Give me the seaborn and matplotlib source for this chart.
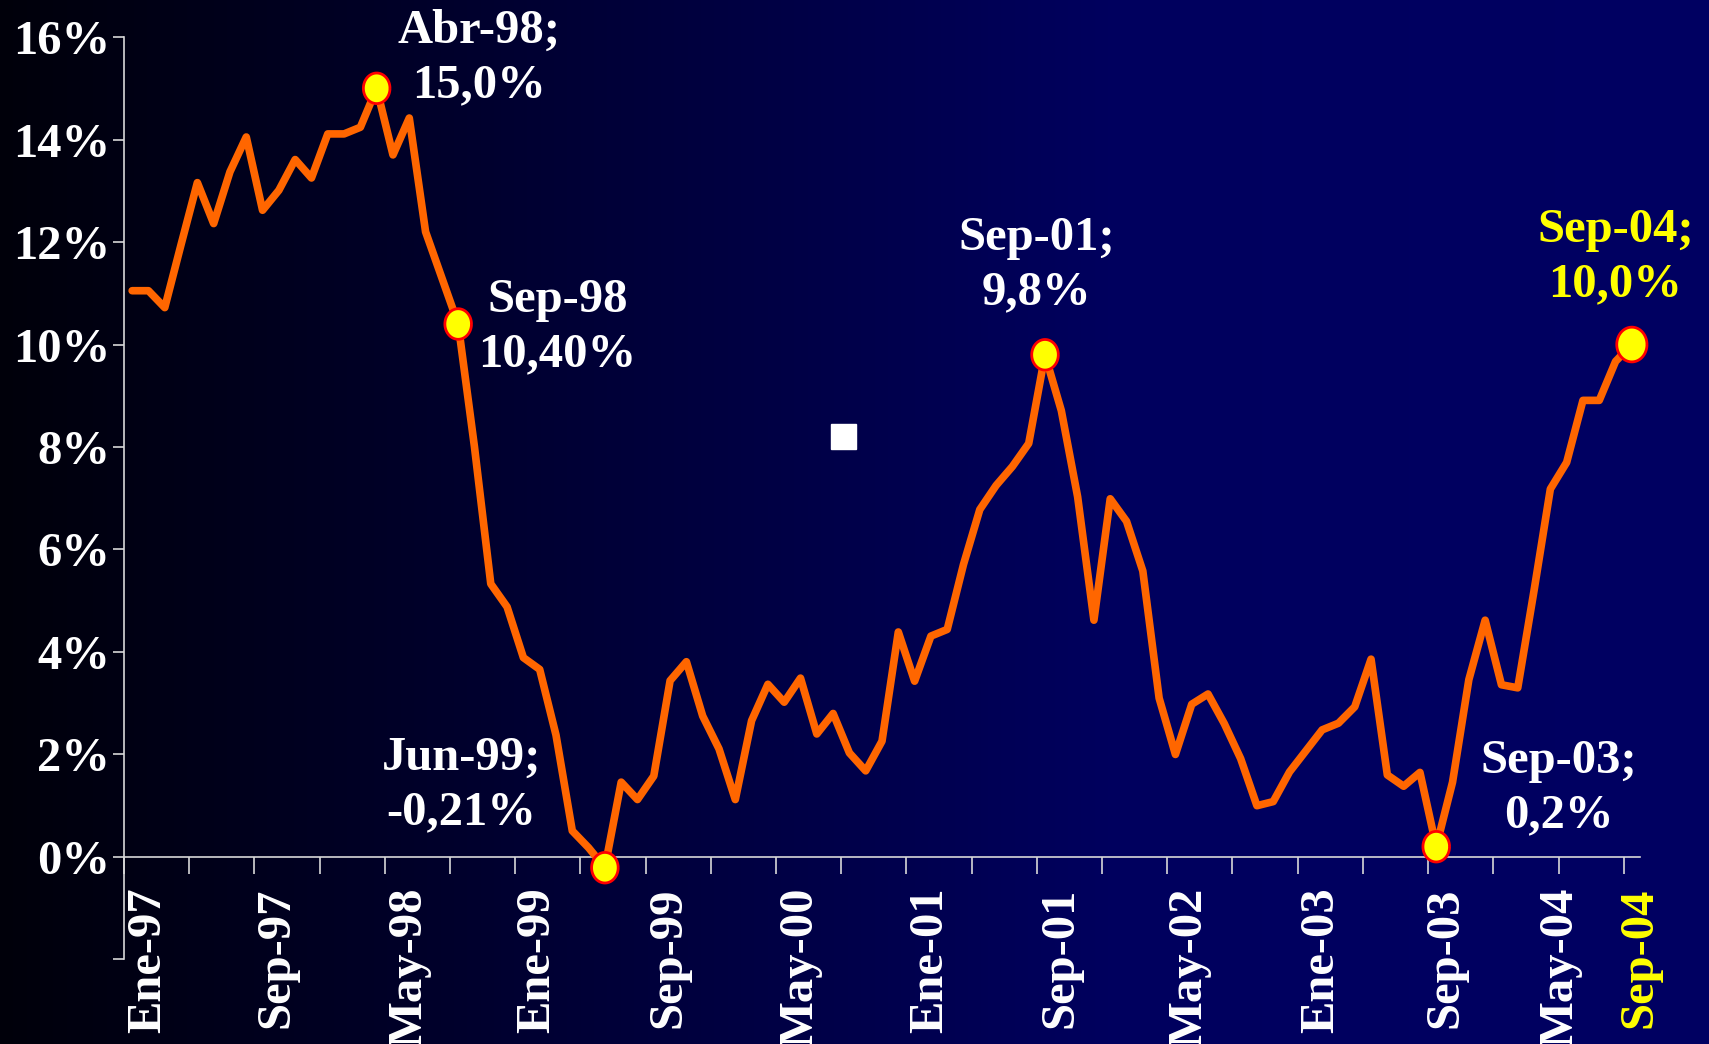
import numpy as np
import pandas as pd
import seaborn as sns
import matplotlib.pyplot as plt
from matplotlib.lines import Line2D
from matplotlib.colors import LinearSegmentedColormap

# monthly series Ene-97 .. Sep-04 (%)
meses = ['Ene', 'Feb', 'Mar', 'Abr', 'May', 'Jun', 'Jul', 'Ago', 'Sep', 'Oct', 'Nov', 'Dic']
fechas = [f'{m}-{a:02d}' for a in [97, 98, 99, 0, 1, 2, 3, 4] for m in meses][:93]

valores = [11.05, 11.05, 10.72, 11.95, 13.16, 12.36, 13.37, 14.05, 12.62, 13.01, 13.61, 13.25,
           14.11, 14.11, 14.24, 15.0, 13.70, 14.42, 12.2, 11.3, 10.4, 8.0, 5.33, 4.88,
           3.89, 3.66, 2.38, 0.51, 0.18, -0.21, 1.46, 1.12, 1.58, 3.44, 3.81, 2.75,
           2.11, 1.12, 2.66, 3.37, 3.02, 3.49, 2.40, 2.80, 2.03, 1.68, 2.26, 4.39,
           3.43, 4.31, 4.44, 5.71, 6.78, 7.25, 7.62, 8.07, 9.8, 8.71, 7.03, 4.62,
           6.99, 6.55, 5.58, 3.10, 2.00, 2.98, 3.18, 2.60, 1.92, 1.00, 1.08, 1.66,
           2.07, 2.48, 2.61, 2.93, 3.86, 1.60, 1.38, 1.65, 0.2, 1.46, 3.46, 4.62,
           3.36, 3.30, 5.2, 7.18, 7.70, 8.91, 8.91, 9.67, 10.0]

# highlighted points and their labels
destacados = ['Abr-98', 'Sep-98', 'Jun-99', 'Sep-01', 'Sep-03', 'Sep-04']
etiquetas = ['Abr-98;\n15,0%', 'Sep-98\n10,40%', 'Jun-99;\n-0,21%',
             'Sep-01;\n9,8%', 'Sep-03;\n0,2%', 'Sep-04;\n10,0%']
etiqueta_pos = [(21.3, 15.59), (26.1, 10.34), (20.2, 1.40),
                (55.5, 11.55), (87.5, 1.34), (91.0, 11.71)]

eje_x_labels = ['Ene-97', 'Sep-97', 'May-98', 'Ene-99', 'Sep-99', 'May-00', 'Ene-01',
                'Sep-01', 'May-02', 'Ene-03', 'Sep-03', 'May-04', 'Sep-04']
# where the rotated labels sit along the axis (in months)
eje_x_pos = [0.97, 8.87, 16.97, 24.87, 32.92, 40.97, 48.97, 56.92, 64.87, 72.92, 80.57, 87.57, 92.47]

df = pd.DataFrame({'fecha': fechas, 'valor': valores})
df['mes'] = np.arange(len(df))

sns.set_style('ticks')
plt.rcParams['font.family'] = ['Liberation Serif', 'DejaVu Serif']
plt.rcParams['font.weight'] = 'bold'

fig = plt.figure(figsize=(17.09, 10.44), dpi=100)

# background gradient black -> dark blue
bg = fig.add_axes([0, 0, 1, 1], zorder=0)
fondo = LinearSegmentedColormap.from_list(
    'fondo', [(0, '#00000A'), (0.65, '#00005E'), (1, '#000062')])
bg.imshow(np.linspace(0, 1, 512)[None, :], aspect='auto', cmap=fondo, extent=[0, 1, 0, 1])
bg.axis('off')

ax = fig.add_axes([0.07256, 0.0810, 0.88707, 0.8835], zorder=1)
ax.patch.set_alpha(0)

sns.lineplot(data=df, x='mes', y='valor', ax=ax, color='#FF6600', linewidth=5.5, zorder=3)

# slightly tall elliptical markers
t = np.linspace(0, 2 * np.pi, 80)
elipse = list(zip(0.87 * np.cos(t), np.sin(t)))
pts = df[df['fecha'].isin(destacados)]
sizes = [22 ** 2 if f != 'Sep-04' else 25 ** 2 for f in pts['fecha']]
ax.scatter(pts['mes'], pts['valor'], s=sizes, marker=elipse, facecolor='#FFFF00',
           edgecolor='#FF0000', linewidth=2, zorder=4, clip_on=False)

for txt, (x, y) in zip(etiquetas, etiqueta_pos):
    col = '#FFFF00' if txt.startswith('Sep-04') else 'white'
    ax.text(x, y, txt, ha='center', va='center', color=col, fontsize=35,
            fontweight='bold', linespacing=1.3, zorder=5)

# stray legend square
ax.legend(handles=[Line2D([], [], marker='s', color='white', linestyle='none', markersize=18)],
          labels=[''], loc='center', bbox_to_anchor=(0.474, 0.566), frameon=False,
          handlelength=0.5, handletextpad=0)

# axes
ax.set_xlim(-0.5, 92.5)
ax.set_ylim(-2, 16)
ax.set_xlabel('')
ax.set_ylabel('')

ax.set_xticks(np.arange(-0.5, 93, 4))
ax.set_xticklabels([])
ax.set_xticks(eje_x_pos, minor=True)
ax.set_xticklabels(eje_x_labels, minor=True)
ax.tick_params(axis='x', which='major', direction='out', length=12, width=1.2, color='#D8D8D8')
ax.tick_params(axis='x', which='minor', length=0, pad=22, labelsize=35, labelcolor='white',
               labelrotation=90)

yt = np.arange(-2, 17, 2)
ax.set_yticks(yt)
ax.set_yticklabels(['' if v < 0 else f'{v}%' for v in yt])
ax.tick_params(axis='y', direction='out', length=8, width=1.2, color='#D8D8D8',
               pad=2, labelsize=35, labelcolor='white')

ax.spines['bottom'].set_position(('data', 0))
for s in ['top', 'right']:
    ax.spines[s].set_visible(False)
for s in ['left', 'bottom']:
    ax.spines[s].set_color('#D8D8D8')
    ax.spines[s].set_linewidth(1.2)

# last date label in yellow
fig.canvas.draw()
for tk in ax.xaxis.get_minor_ticks():
    if tk.label1.get_text() == 'Sep-04':
        tk.label1.set_color('#FFFF00')

fig.savefig('out.png', dpi=100)
